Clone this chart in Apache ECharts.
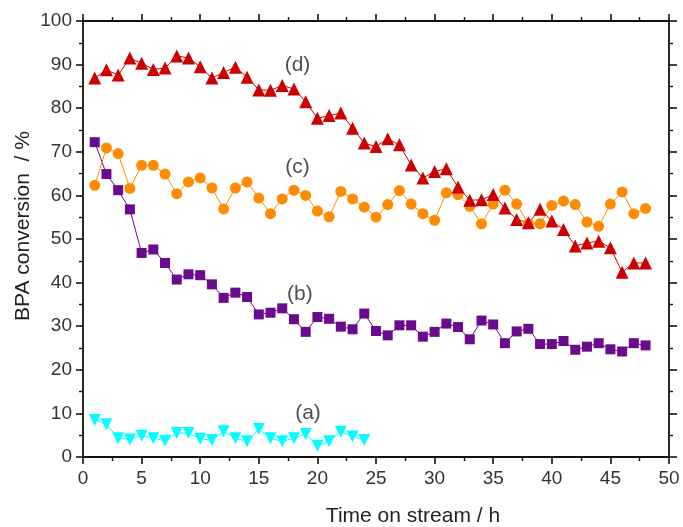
<!DOCTYPE html>
<html>
<head>
<meta charset="utf-8">
<script src="https://cdn.jsdelivr.net/npm/echarts@6/dist/echarts.min.js"></script>
<style>html,body{margin:0;padding:0;background:#fff}#c{width:683px;height:527px}</style>
</head>
<body>
<div id="c"></div>
<script>
const hours = [1,2,3,4,5,6,7,8,9,10,11,12,13,14,15,16,17,18,19,20,21,22,23,24,25,26,27,28,29,30,31,32,33,34,35,36,37,38,39,40,41,42,43,44,45,46,47,48];
const hoursA = [1,2,3,4,5,6,7,8,9,10,11,12,13,14,15,16,17,18,19,20,21,22,23,24];
const seriesA = [8.5,7.5,4.3,4.0,4.9,4.3,3.7,5.5,5.5,4.1,3.9,5.9,4.3,3.6,6.4,4.3,3.6,4.3,5.3,2.6,3.6,5.8,4.7,3.9];
const seriesB = [72.2,64.9,61.2,56.8,46.8,47.6,44.5,40.7,41.9,41.7,39.6,36.5,37.7,36.7,32.7,33.1,34.1,31.6,28.7,32.1,31.7,29.9,29.3,32.9,28.9,27.9,30.2,30.2,27.6,28.7,30.6,29.8,27.0,31.3,30.4,26.1,28.8,29.4,25.9,25.9,26.6,24.6,25.3,26.1,24.7,24.2,26.1,25.6];
const seriesC = [62.3,70.9,69.6,61.6,66.9,66.9,64.9,60.4,63.1,64.0,61.7,56.9,61.7,63.1,59.4,55.8,59.2,61.2,60.0,56.4,55.1,60.9,59.2,57.3,55.0,57.9,61.1,58.0,55.8,54.3,60.6,60.2,57.5,53.5,58.0,61.2,58.0,53.5,53.5,57.7,58.7,57.9,53.9,52.9,58.0,60.8,55.8,57.0];
const seriesD = [86.9,88.8,87.6,91.5,90.3,88.9,89.2,92.0,91.5,89.5,86.9,88.2,89.4,87.1,84.2,84.1,85.2,84.4,81.5,77.7,78.3,78.9,75.4,72.0,71.2,73.0,71.6,67.0,64.0,65.5,66.1,61.9,58.9,59.0,60.2,57.1,54.5,53.7,56.8,54.1,52.2,48.4,49.1,49.5,48.0,42.4,44.5,44.5];
const labelTexts = ['(a)','(b)','(c)','(d)'];
const labelX = [19.2,18.5,18.3,18.3];
const labelY = [10.1,37.4,66.5,89.9];
const xTicks = [0,5,10,15,20,25,30,35,40,45,50];
const yTicks = [0,10,20,30,40,50,60,70,80,90,100];

const FONT = 'Liberation Sans, Arial, sans-serif';
const chart = echarts.init(document.getElementById('c'));
const pair = (xs, ys) => xs.map((x, i) => [x, ys[i]]);
const axisLine = {show:true, onZero:false, lineStyle:{color:'#111', width:1.8}};
const tick = {show:true, length:7, lineStyle:{color:'#111', width:1.6}};
const minor = {show:true, splitNumber:2, length:4, lineStyle:{color:'#111', width:1.4}};
const lineSeries = (name, data, color, symbol, size, rotate) => ({
  name, type:'line', data, symbol, symbolSize:size, symbolRotate:rotate||0,
  lineStyle:{color, width:1}, itemStyle:{color}, z:3, animation:false
});

chart.setOption({
  animation:false,
  grid:{left:83, right:14, top:21, bottom:70, containLabel:false},
  xAxis:[
    {type:'value', min:0, max:50, interval:5, position:'bottom', axisLine, axisTick:tick, minorTick:minor,
     splitLine:{show:false},
     axisLabel:{fontSize:19, color:'#333', fontFamily:FONT, margin:12,
       customValues: xTicks}},
    {type:'value', min:0, max:50, interval:5, position:'top', axisLine, axisTick:tick, minorTick:minor,
     splitLine:{show:false}, axisLabel:{show:false}}
  ],
  yAxis:[
    {type:'value', min:0, max:100, interval:10, position:'left', axisLine, axisTick:tick, minorTick:minor,
     splitLine:{show:false},
     axisLabel:{fontSize:19, color:'#333', fontFamily:FONT, margin:11}},
    {type:'value', min:0, max:100, interval:10, position:'right', axisLine,
     axisTick:{show:true, length:8, lineStyle:{color:'#111', width:1.6}}, minorTick:minor,
     splitLine:{show:false}, axisLabel:{show:false}}
  ],
  series:[
    lineSeries('(a)', pair(hoursA, seriesA), '#00FFFF', 'triangle', 12, 180),
    lineSeries('(b)', pair(hours, seriesB), '#6A0A8C', 'rect', 10),
    lineSeries('(c)', pair(hours, seriesC), '#FF8C00', 'circle', 11),
    lineSeries('(d)', pair(hours, seriesD), '#CC0000', 'triangle', 13),
    {type:'scatter', symbolSize:0, silent:true, z:5,
     data: labelTexts.map((t, i) => ({value:[labelX[i], labelY[i]], name:t})),
     label:{show:true, position:'inside', formatter:p=>p.name, fontSize:21, color:'#222', fontFamily:FONT, textBorderWidth:0}}
  ],
  graphic:[
    {type:'text', x:23, y:226, rotation:Math.PI/2,
     style:{text:'BPA conversion  / %', fontSize:21, fill:'#222', font:'21px Liberation Sans, Arial, sans-serif', textAlign:'center', textVerticalAlign:'middle'}},
    {type:'text', x:413, y:516,
     style:{text:'Time on stream / h', fontSize:21, fill:'#222', font:'21px Liberation Sans, Arial, sans-serif', textAlign:'center', textVerticalAlign:'middle'}}
  ]
});
</script>
</body>
</html>
